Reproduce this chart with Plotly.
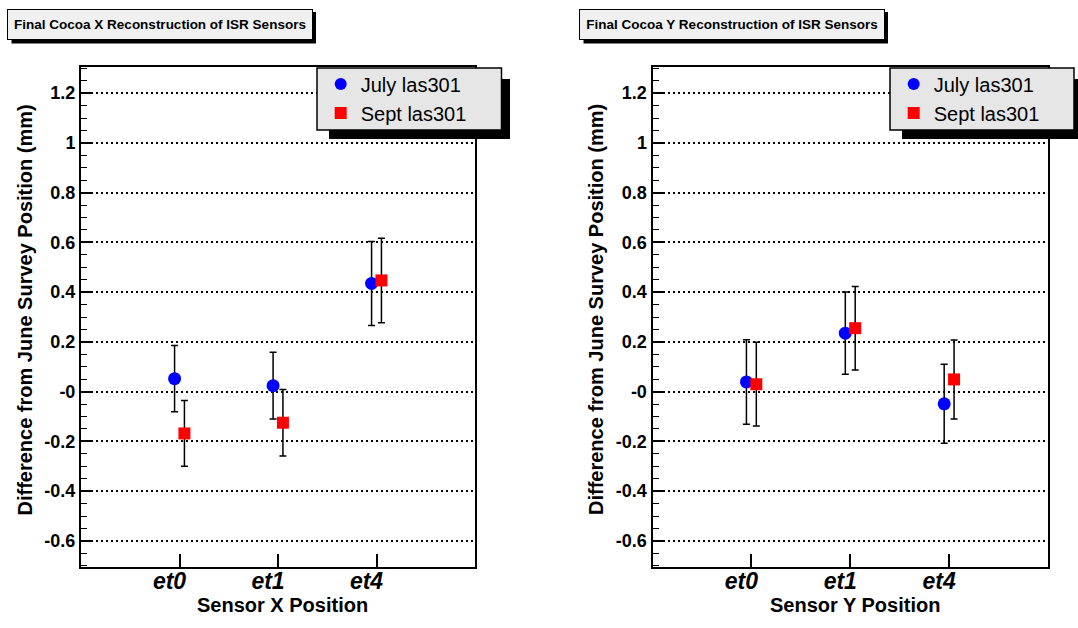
import plotly.graph_objects as go

W, H = 1078, 628

# ---------------- data ----------------
sensors = ["et0", "et1", "et4"]

x_july = [0.052, 0.024, 0.435]
x_july_err = [0.133, 0.134, 0.169]
x_sept = [-0.168, -0.125, 0.447]
x_sept_err = [0.132, 0.134, 0.170]

y_july = [0.039, 0.235, -0.049]
y_july_err = [0.170, 0.165, 0.159]
y_sept = [0.030, 0.255, 0.049]
y_sept_err = [0.168, 0.168, 0.159]

y_tick_vals = [-0.6, -0.4, -0.2, 0, 0.2, 0.4, 0.6, 0.8, 1, 1.2]
y_tick_text = ["-0.6", "-0.4", "-0.2", "-0", "0.2", "0.4", "0.6", "0.8", "1", "1.2"]

series_names = ["July las301", "Sept las301"]
titles = ["Final Cocoa X Reconstruction of ISR Sensors",
          "Final Cocoa Y Reconstruction of ISR Sensors"]
x_titles = ["Sensor X Position", "Sensor Y Position"]
y_title = "Difference from June Survey Position (mm)"

# ---------------- figure ----------------
FONT = "Liberation Sans, Arial, sans-serif"
pos = [i + 1 for i in range(len(sensors))]
off = 0.05

def px_x(p):
    return p / W

def px_y(p):
    return 1 - p / H

fig = go.Figure()

panels = [
    dict(xa="x", ya="y", leg="legend", july=x_july, je=x_july_err, sept=x_sept, se=x_sept_err),
    dict(xa="x2", ya="y2", leg="legend2", july=y_july, je=y_july_err, sept=y_sept, se=y_sept_err),
]

for i, p in enumerate(panels):
    fig.add_trace(go.Scatter(
        x=[v - off for v in pos], y=p["july"], mode="markers", name=series_names[0],
        legend=p["leg"],
        marker=dict(symbol="circle", size=13, color="#0000ff"),
        error_y=dict(type="data", array=p["je"], color="black", thickness=1.5, width=3.5),
        xaxis=p["xa"], yaxis=p["ya"]))
    fig.add_trace(go.Scatter(
        x=[v + off for v in pos], y=p["sept"], mode="markers", name=series_names[1],
        legend=p["leg"],
        marker=dict(symbol="square", size=12, color="#ff0000"),
        error_y=dict(type="data", array=p["se"], color="black", thickness=1.5, width=3.5),
        xaxis=p["xa"], yaxis=p["ya"]))

plot_left = [81, 652.5]
plot_right = [475, 1048]
plot_top, plot_bottom = 67, 567

def xaxis_cfg(i, anchor):
    return dict(
        domain=[px_x(plot_left[i]), px_x(plot_right[i])], anchor=anchor,
        range=[0, 4], tickmode="array", tickvals=pos, ticktext=sensors,
        ticks="inside", ticklen=13, tickwidth=1.5, tickcolor="black",
        ticklabelshift=-10, ticklabelstandoff=-8,
        showline=True, linewidth=2, linecolor="black", mirror=True,
        showgrid=False, zeroline=False,
        tickfont=dict(family=FONT, size=23, color="black", weight="bold", style="italic"),
    )

def yaxis_cfg(i, anchor):
    return dict(
        domain=[px_y(plot_bottom), px_y(plot_top)], anchor=anchor,
        range=[-0.705, 1.305], tickmode="array", tickvals=y_tick_vals, ticktext=y_tick_text,
        ticks="inside", ticklen=12, tickwidth=1.5, tickcolor="black",
        minor=dict(tickmode="linear", tick0=0, dtick=0.05, ticks="inside", ticklen=6,
                   tickwidth=1.2, tickcolor="black", showgrid=False),
        showline=True, linewidth=2, linecolor="black", mirror=True,
        showgrid=True, gridcolor="black", gridwidth=1.8, griddash="2px,3px",
        zeroline=False,
        tickfont=dict(family=FONT, size=18, color="black", weight="bold"),
    )

legend_box = [(317, 501.5), (890, 1074)]
legend_top, legend_bottom = 68, 130

def legend_cfg(i):
    return dict(
        x=px_x(legend_box[i][0] + 3.7), y=px_y(64.5), xanchor="left", yanchor="top",
        xref="paper", yref="paper",
        bgcolor="rgba(0,0,0,0)", borderwidth=0,
        font=dict(family=FONT, size=20, color="black"),
        traceorder="normal", itemsizing="constant",
    )

shapes = []
annotations = []
title_left = [7, 579]
title_w = [306, 306]
for i in range(2):
    # title shadow
    shapes.append(dict(type="rect", xref="paper", yref="paper",
                       x0=px_x(title_left[i] + 4.5), x1=px_x(title_left[i] + title_w[i] + 3),
                       y0=px_y(43.5), y1=px_y(12),
                       fillcolor="black", line=dict(width=0), layer="above"))
    annotations.append(dict(
        text=titles[i], xref="paper", yref="paper",
        x=px_x(title_left[i]), y=px_y(9), xanchor="left", yanchor="top",
        showarrow=False, width=title_w[i] - 2, height=29, align="center", valign="middle",
        bgcolor="#f0f0f0", bordercolor="black", borderwidth=1, borderpad=0,
        font=dict(family=FONT, size=13.5, color="black", weight="bold")))
    # legend shadow and box
    x0, x1 = legend_box[i]
    shapes.append(dict(type="rect", xref="paper", yref="paper",
                       x0=px_x(x0 + 12), x1=px_x(x1 + 8.5),
                       y0=px_y(139), y1=px_y(79),
                       fillcolor="black", line=dict(width=0), layer="above"))
    shapes.append(dict(type="rect", xref="paper", yref="paper",
                       x0=px_x(x0), x1=px_x(x1),
                       y0=px_y(legend_bottom), y1=px_y(legend_top),
                       fillcolor="#e6e6e6", line=dict(width=1.5, color="black"), layer="above"))
    # axis titles
    cx = (plot_left[i] + plot_right[i]) / 2 + 4.5
    annotations.append(dict(
        text=x_titles[i], xref="paper", yref="paper",
        x=px_x(cx), y=px_y(605), xanchor="center", yanchor="middle", showarrow=False,
        font=dict(family=FONT, size=20, color="black", weight="bold")))
    annotations.append(dict(
        text=y_title, xref="paper", yref="paper", textangle=-90,
        x=px_x(plot_left[i] - 56.5), y=px_y(310), xanchor="center", yanchor="middle",
        showarrow=False,
        font=dict(family=FONT, size=20, color="black", weight="bold")))

fig.update_layout(
    width=W, height=H, margin=dict(l=0, r=0, t=0, b=0),
    paper_bgcolor="white", plot_bgcolor="white",
    xaxis=xaxis_cfg(0, "y"), yaxis=yaxis_cfg(0, "x"),
    xaxis2=xaxis_cfg(1, "y2"), yaxis2=yaxis_cfg(1, "x2"),
    legend=legend_cfg(0), legend2=legend_cfg(1),
    shapes=shapes, annotations=annotations,
    font=dict(family=FONT, color="black"),
)

fig.write_html("out.html")
